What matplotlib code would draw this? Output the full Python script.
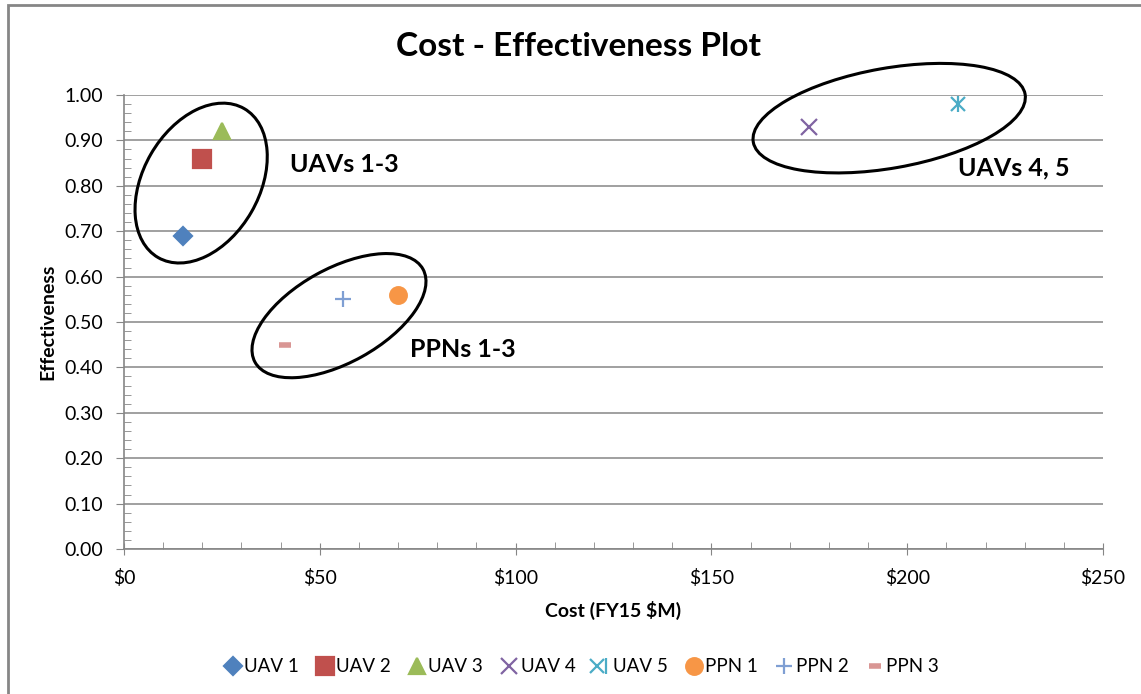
import matplotlib
matplotlib.use("Agg")
import matplotlib.pyplot as plt
from matplotlib.patches import Ellipse, Rectangle
from matplotlib.transforms import ScaledTranslation
from matplotlib.ticker import MultipleLocator, FuncFormatter
from matplotlib.legend_handler import HandlerTuple

plt.rcParams['font.family'] = ['Lato', 'DejaVu Sans']

# data
names = ["UAV 1", "UAV 2", "UAV 3", "UAV 4", "UAV 5", "PPN 1", "PPN 2", "PPN 3"]
cost = [15, 20, 25, 175, 213, 70, 56, 41]
effectiveness = [0.69, 0.86, 0.92, 0.93, 0.98, 0.56, 0.55, 0.45]
colors = ["#4F81BD", "#C0504D", "#9BBB59", "#8064A2", "#4BACC6", "#F79646", "#7F9FD3", "#D99694"]
markers = ["D", "s", "^", "x", "x", "o", "+", "_"]
sizes = [9, 13, 12, 11, 10, 12, 12, 9]

# group annotations: label, label position (data), ellipse centre (data), w, h (px), angle
groups = [
    ("UAVs 1-3", (42.5, 0.846), (19.7, 0.806), 172, 116, 60),
    ("PPNs 1-3", (73.0, 0.44), (54.9, 0.514), 192, 94, 29),
    ("UAVs 4, 5", (213.0, 0.839), (195.4, 0.949), 276, 100, 10),
]

fig = plt.figure(figsize=(11.41, 6.94), dpi=100)
ax = fig.add_axes([124 / 1141, 145 / 694, 979 / 1141, 454 / 694])

handles = []
for i, name in enumerate(names):
    mew = 1.6
    if markers[i] == "_":
        mew = 4
    h, = ax.plot([cost[i]], [effectiveness[i]], linestyle="none", marker=markers[i],
                 color=colors[i], markersize=sizes[i], markeredgewidth=mew, label=name)
    if name == "UAV 5":
        # Excel star marker = x plus a vertical bar
        h2, = ax.plot([cost[i]], [effectiveness[i]], linestyle="none", marker="|",
                      color=colors[i], markersize=sizes[i] + 2, markeredgewidth=mew)
        h = (h, h2)
    handles.append(h)

for label, lpos, cpos, w, h, ang in groups:
    tr = fig.dpi_scale_trans + ScaledTranslation(cpos[0], cpos[1], ax.transData)
    ax.add_patch(Ellipse((0, 0), w / 100, h / 100, angle=ang, transform=tr,
                         fill=False, edgecolor="black", linewidth=2.2, clip_on=False))
    ax.text(lpos[0], lpos[1], label, fontsize=18, fontweight="bold", va="center", ha="left")

ax.set_xlim(0, 250)
ax.set_ylim(0, 1.0)
ax.xaxis.set_major_locator(MultipleLocator(50))
ax.xaxis.set_minor_locator(MultipleLocator(10))
ax.yaxis.set_major_locator(MultipleLocator(0.1))
ax.yaxis.set_minor_locator(MultipleLocator(0.02))
ax.xaxis.set_major_formatter(FuncFormatter(lambda v, p: "${:.0f}".format(v)))
ax.yaxis.set_major_formatter(FuncFormatter(lambda v, p: "{:.2f}".format(v)))

gray = "#868686"
for s in ["top", "right"]:
    ax.spines[s].set_visible(False)
for s in ["left", "bottom"]:
    ax.spines[s].set_color(gray)
    ax.spines[s].set_linewidth(1.2)
ax.grid(axis="y", which="major", color=gray, linewidth=1.1)
ax.set_axisbelow(True)
ax.tick_params(axis="x", which="major", direction="inout", length=9, color=gray, labelsize=14, pad=10)
ax.tick_params(axis="x", which="minor", direction="in", length=5, color=gray)
ax.tick_params(axis="y", which="major", direction="out", length=6, color=gray, labelsize=14, pad=9)
ax.tick_params(axis="y", which="minor", direction="in", length=5, color=gray)

ax.set_xlabel("Cost (FY15 $M)", fontsize=14, fontweight="bold", labelpad=10)
ax.set_ylabel("Effectiveness", fontsize=14, fontweight="bold", labelpad=6)
fig.text(578 / 1141, 1 - 47 / 694, "Cost - Effectiveness Plot", fontsize=24, fontweight="bold",
         ha="center", va="center")

fig.legend(handles, names, loc="center", bbox_to_anchor=(581 / 1141, (694 - 667) / 694),
           ncol=8, frameon=False, fontsize=13.5, handletextpad=0.1, columnspacing=0.9,
           handlelength=1.0, handler_map={tuple: HandlerTuple(ndivide=None, pad=0)})

fig.patches.append(Rectangle((8 / 1141, -0.1), 1.2, (694 - 5) / 694 + 0.1, transform=fig.transFigure,
                             fill=False, edgecolor=gray, linewidth=2, figure=fig))

fig.savefig("out.png", dpi=100)
